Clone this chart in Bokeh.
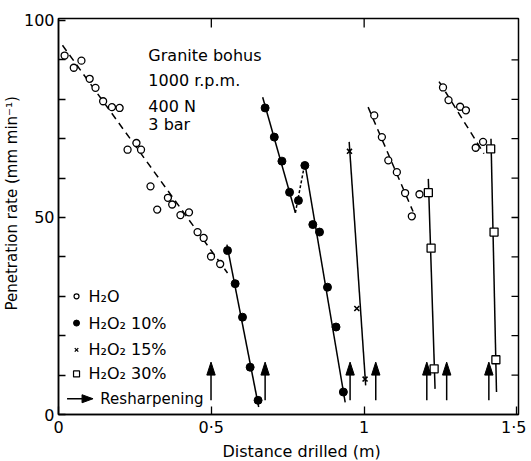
from bokeh.plotting import figure
from bokeh.models import Range1d, FixedTicker, Title
from bokeh.core.properties import value
from bokeh.embed import file_html
from bokeh.resources import INLINE

FONT = "DejaVu Sans"

# ---------------- data ----------------
# H2O, first run (open circles) + dashed fit
h2o_1_x = [0.020, 0.050, 0.075, 0.102, 0.121, 0.146, 0.175, 0.200, 0.226, 0.255, 0.270,
           0.301, 0.323, 0.358, 0.372, 0.399, 0.427, 0.455, 0.475, 0.499, 0.529]
h2o_1_y = [91.1, 88.0, 89.8, 85.2, 82.9, 79.5, 78.0, 77.8, 67.2, 68.9, 67.2,
           57.9, 52.0, 55.0, 53.3, 50.6, 51.3, 46.3, 44.8, 40.1, 38.2]
h2o_1_fit_x = [0.013, 0.553]
h2o_1_fit_y = [93.7, 35.9]

# H2O2 10 %, first run (filled circles)
p10_1_x = [0.553, 0.578, 0.602, 0.627, 0.653]
p10_1_y = [41.6, 33.2, 24.7, 12.0, 3.6]
p10_1_fit_x = [0.551, 0.655]
p10_1_fit_y = [43.1, 1.9]

# H2O2 10 %, second run
p10_2_x = [0.676, 0.706, 0.731, 0.756]
p10_2_y = [77.8, 70.4, 64.3, 56.4]
p10_2_fit_x = [0.668, 0.775]
p10_2_fit_y = [80.5, 51.2]
p10_link_x = [0.775, 0.806]
p10_link_y = [51.2, 63.8]
p10_link_pt_x = [0.785]
p10_link_pt_y = [54.3]
p10_3_x = [0.806, 0.832, 0.854, 0.880, 0.908, 0.932]
p10_3_y = [63.2, 48.2, 46.3, 32.3, 22.2, 5.7]
p10_3_fit_x = [0.806, 0.938]
p10_3_fit_y = [63.8, 3.1]

# H2O2 15 % (crosses)
p15_x = [0.952, 0.976, 1.003]
p15_y = [66.8, 26.9, 9.0]
p15_fit_x = [0.951, 1.005]
p15_fit_y = [69.2, 7.4]

# H2O, second run
h2o_2_x = [1.033, 1.058, 1.079, 1.107, 1.134, 1.156, 1.181]
h2o_2_y = [75.9, 70.4, 64.5, 61.5, 56.2, 50.3, 55.9]
h2o_2_fit_x = [1.013, 1.160]
h2o_2_fit_y = [78.0, 51.5]

# H2O2 30 %, first run (open squares)
p30_1_x = [1.210, 1.219, 1.229]
p30_1_y = [56.3, 42.2, 11.6]
p30_1_fit_x = [1.210, 1.232]
p30_1_fit_y = [59.8, 6.5]

# H2O, third run
h2o_3_x = [1.258, 1.276, 1.314, 1.333, 1.365, 1.389]
h2o_3_y = [83.0, 79.8, 78.1, 77.2, 67.7, 69.2]
h2o_3_fit_x = [1.245, 1.392]
h2o_3_fit_y = [84.5, 66.2]

# H2O2 30 %, second run
p30_2_x = [1.414, 1.425, 1.431]
p30_2_y = [67.4, 46.3, 13.9]
p30_2_fit_x = [1.415, 1.433]
p30_2_fit_y = [70.0, 5.7]

# Resharpening arrows
resharp_x = [0.499, 0.676, 0.954, 1.038, 1.205, 1.270, 1.408]
resharp_y0 = 3.6
resharp_y1 = 13.3

x_ticks = [0, 0.5, 1, 1.5]
x_tick_labels = ["0", "0·5", "1", "1·5"]
y_ticks = [0, 50, 100]
y_minor = [10, 20, 30, 40, 60, 70, 80, 90]

notes = ["Granite bohus", "1000 r.p.m.", "400 N", "3 bar"]
legend_labels = ["H₂O", "H₂O₂ 10%", "H₂O₂ 15%", "H₂O₂ 30%"]

X_MAX = 1.505
Y_MAX = 100.5
FRAME_W = 460.0
FRAME_H = 396.0

# ---------------- figure ----------------
p = figure(width=526, height=460, output_backend="svg", toolbar_location=None,
           x_range=Range1d(0, X_MAX), y_range=Range1d(0, Y_MAX),
           min_border_left=58, min_border_right=8, min_border_top=18, min_border_bottom=46)
p.grid.visible = False
p.outline_line_color = "black"
p.outline_line_width = 1.5
p.background_fill_color = "white"
p.border_fill_color = "white"

def style_axis(ax, tick_in, standoff):
    ax.axis_line_width = 1.5
    ax.major_tick_in = tick_in
    ax.major_tick_out = 0
    ax.minor_tick_in = tick_in
    ax.minor_tick_out = 0
    ax.major_tick_line_width = 1.3
    ax.minor_tick_line_width = 1.3
    ax.major_label_text_font = FONT
    ax.major_label_text_font_size = "16px"
    ax.major_label_text_color = "black"
    ax.major_label_standoff = standoff

p.xaxis.ticker = FixedTicker(ticks=x_ticks, minor_ticks=[])
p.xaxis.major_label_overrides = {t: l for t, l in zip(x_ticks, x_tick_labels)}
style_axis(p.xaxis[0], 8, 3)
p.yaxis.ticker = FixedTicker(ticks=y_ticks, minor_ticks=y_minor)
style_axis(p.yaxis[0], 7, 4)

def px_to_x(px):
    return px * (X_MAX / FRAME_W)

def px_to_y(px):
    return px * (Y_MAX / FRAME_H)

# inward ticks on the top and right edges of the frame
top_ticks = [0.5, 1]
p.segment(x0=top_ticks, y0=[Y_MAX] * len(top_ticks), x1=top_ticks,
          y1=[Y_MAX - px_to_y(9)] * len(top_ticks), line_color="black", line_width=1.3)
right_ticks = y_minor + [50]
p.segment(x0=[X_MAX] * len(right_ticks), y0=right_ticks, x1=[X_MAX - px_to_x(7)] * len(right_ticks),
          y1=right_ticks, line_color="black", line_width=1.3)

LW = 1.5
# fit lines
for fx, fy in [(h2o_1_fit_x, h2o_1_fit_y), (h2o_2_fit_x, h2o_2_fit_y), (h2o_3_fit_x, h2o_3_fit_y)]:
    p.line(fx, fy, line_color="black", line_width=LW, line_dash="7 5")
for fx, fy in [(p10_1_fit_x, p10_1_fit_y), (p10_2_fit_x, p10_2_fit_y), (p10_3_fit_x, p10_3_fit_y),
               (p15_fit_x, p15_fit_y), (p30_1_fit_x, p30_1_fit_y), (p30_2_fit_x, p30_2_fit_y)]:
    p.line(fx, fy, line_color="black", line_width=LW)
p.line(p10_link_x, p10_link_y, line_color="black", line_width=LW, line_dash="3 2")

# markers
for xs, ys in [(h2o_1_x, h2o_1_y), (h2o_2_x, h2o_2_y), (h2o_3_x, h2o_3_y)]:
    p.scatter(xs, ys, marker="circle", size=7, fill_color="white", line_color="black", line_width=1.3)
for xs, ys in [(p10_1_x, p10_1_y), (p10_2_x, p10_2_y), (p10_link_pt_x, p10_link_pt_y), (p10_3_x, p10_3_y)]:
    p.scatter(xs, ys, marker="circle", size=8, fill_color="black", line_color="black")
p.scatter(p15_x, p15_y, marker="x", size=7, line_color="black", line_width=1.6)
for xs, ys in [(p30_1_x, p30_1_y), (p30_2_x, p30_2_y)]:
    p.scatter(xs, ys, marker="square", size=8, fill_color="white", line_color="black", line_width=1.3)

# resharpening arrows (vertical)
HL = px_to_y(13)     # head length
HW = px_to_x(4.2)    # half head width
p.segment(x0=resharp_x, y0=[resharp_y0] * len(resharp_x), x1=resharp_x,
          y1=[resharp_y1 - HL + 0.5] * len(resharp_x), line_color="black", line_width=LW)
p.patches(xs=[[x - HW, x, x + HW] for x in resharp_x],
          ys=[[resharp_y1 - HL, resharp_y1, resharp_y1 - HL] for _ in resharp_x],
          fill_color="black", line_color="black", line_width=1)

# annotation block
note_y = [91.1, 84.8, 78.2, 73.6]
p.text(x=[0.294] * 4, y=note_y, text=notes, text_font=value(FONT), text_font_size="16px",
       text_color="black", text_align="left", text_baseline="alphabetic")

# legend (hand-drawn as in the original)
leg_x = 0.059
leg_y = [30.0, 23.2, 16.4, 10.3]
p.scatter([leg_x], [leg_y[0]], marker="circle", size=5, fill_color="white", line_color="black", line_width=1.2)
p.scatter([leg_x], [leg_y[1]], marker="circle", size=6, fill_color="black", line_color="black")
p.scatter([leg_x], [leg_y[2]], marker="x", size=5, line_color="black", line_width=1.3)
p.scatter([leg_x], [leg_y[3]], marker="square", size=6, fill_color="white", line_color="black", line_width=1.2)
p.text(x=[0.098] * 4, y=leg_y, text=legend_labels, text_font=value(FONT), text_font_size="16px",
       text_color="black", text_align="left", text_baseline="middle")
ly = 4.0
p.segment(x0=[0.028], y0=[ly], x1=[0.113 - px_to_x(11)], y1=[ly], line_color="black", line_width=LW)
p.patch(x=[0.113 - px_to_x(11), 0.113, 0.113 - px_to_x(11)],
        y=[ly + px_to_y(4), ly, ly - px_to_y(4)], fill_color="black", line_color="black")
p.text(x=[0.137], y=[ly], text=["Resharpening"], text_font=value(FONT), text_font_size="15px",
       text_color="black", text_align="left", text_baseline="middle")

# axis titles (as titles in the side panels, so they can sit off-centre like the original)
ylab = Title(text="Penetration rate (mm min⁻¹)", align="left", offset=104, standoff=0,
             text_font=FONT, text_font_size="15px", text_font_style="normal", text_color="black")
p.add_layout(ylab, "left")
xlab = Title(text="Distance drilled (m)", align="left", offset=164, standoff=0,
             text_font=FONT, text_font_size="16px", text_font_style="normal", text_color="black")
p.add_layout(xlab, "below")

open("out.html", "w").write(file_html(p, INLINE))
